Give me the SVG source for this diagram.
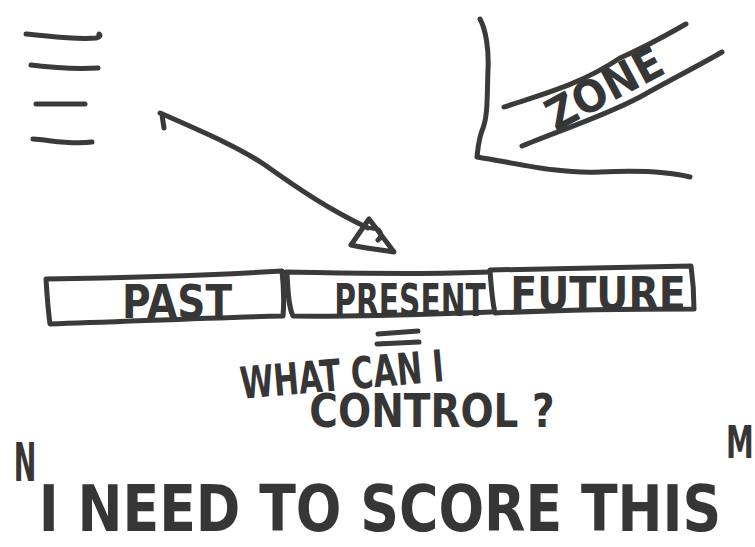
<svg xmlns="http://www.w3.org/2000/svg" width="755" height="547" viewBox="0 0 755 547">
<style>
.s{fill:none;stroke:#3a3a3a;stroke-width:5;stroke-linecap:round;stroke-linejoin:round}
.t{font-family:"DejaVu Sans","Liberation Sans",sans-serif;font-weight:bold;fill:#363636;text-anchor:middle}
</style>
<rect width="755" height="547" fill="#ffffff"/>
<g id="list-marks">
<path class="s" d="M26,34 C50,36 75,40 96,38 C100,37 101,35 99,34"/>
<path class="s" d="M31,65 C55,68 80,69 98,68"/>
<path class="s" d="M36,104 L85,104"/>
<path class="s" d="M33,139 C50,140 70,145 92,142"/>
</g>
<g id="zone">
<path class="s" d="M480,19 C486,30 489,50 488,70 C487,95 488,115 483,128 C478,140 478,150 477,157 C520,164 560,174 600,172 C640,170 670,172 690,177"/>
<path class="s" d="M504,107 C540,95 580,85 620,58 C650,45 670,33 686,24"/>
<path class="s" d="M522,146 C560,130 600,118 640,97 C670,80 700,65 722,52"/>
<text class="t" font-size="44" transform="translate(604,88) rotate(-28) scale(0.93,1) translate(0,16)">ZONE</text>
</g>
<g id="connectors">
<path class="s" d="M162,115 L164,128 M160,113 C210,135 240,148 265,165 C300,190 330,210 368,228"/>
<path class="s" d="M369,219 L351,245 C365,248 380,250 394,252 C385,240 376,228 369,219 Z M372,228 C380,228 384,236 378,240"/>
</g>
<g id="past">
<path class="s" d="M46,279 C120,278 200,276 282,271 C284,290 284,305 283,316 C200,318 120,322 50,324 C48,310 47,295 46,279 Z"/>
<text class="t" font-size="46" transform="translate(177,318) scale(0.85,1)">PAST</text>
</g>
<g id="present">
<path class="s" d="M286,272 C350,273 420,275 490,272 M287,274 C288,290 288,305 293,316 C360,317 430,314 491,312"/>
<text class="t" font-size="45" transform="translate(410,316) scale(0.66,1)">PRESENT</text>
</g>
<g id="future">
<path class="s" d="M490,270 C560,268 630,267 691,266 C693,280 694,295 694,309 C630,309 560,310 495,313 C492,300 491,285 490,270 Z"/>
<text class="t" font-size="46" transform="translate(598,310) scale(0.86,1)">FUTURE</text>
</g>
<g id="question">
<path class="s" d="M378,334 L418,331 M377,344 L419,342" stroke-width="7"/>
<text class="t" font-size="44" transform="translate(342,376) rotate(-5) scale(0.69,1) translate(0,14)">WHAT CAN I</text>
<text class="t" font-size="47" transform="translate(432,427) scale(0.83,1)">CONTROL ?</text>
</g>
<g id="side-marks">
<text class="t" font-size="54" transform="translate(25,481) scale(0.5,1)">N</text>
<text class="t" font-size="45" transform="translate(740,458) scale(0.62,1)">M</text>
</g>
<g id="score">
<text class="t" font-size="64" transform="translate(380,531) scale(0.84,1)">I NEED TO SCORE THIS</text>
</g>
</svg>
